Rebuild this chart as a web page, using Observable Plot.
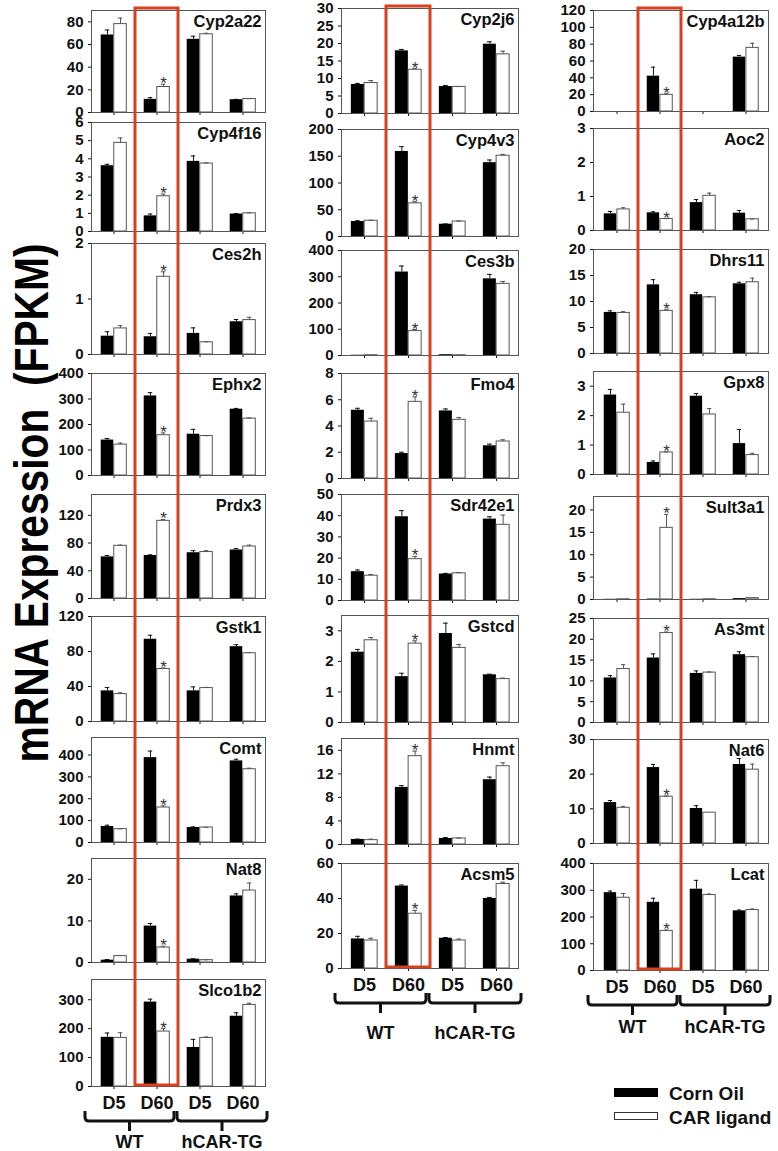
<!DOCTYPE html>
<html><head><meta charset="utf-8">
<script src="https://cdn.jsdelivr.net/npm/d3@7"></script>
<script src="https://cdn.jsdelivr.net/npm/@observablehq/plot@0.6"></script>
<style>
body{margin:0;background:#fff;}
#root{position:relative;width:778px;height:1151px;overflow:hidden;background:#fff;}
.panel{position:absolute;}
</style></head><body><div id="root"></div>
<script>
// ---------------- DATA ----------------
const groups = ["WT D5","WT D60","hCAR-TG D5","hCAR-TG D60"];
const groupLabels = ["D5","D60","D5","D60"];
const genotypes = ["WT","hCAR-TG"];
const treatments = ["Corn Oil","CAR ligand"];

const geneNames = ["Cyp2a22","Cyp4f16","Ces2h","Ephx2","Prdx3","Gstk1","Comt","Nat8","Slco1b2",
  "Cyp2j6","Cyp4v3","Ces3b","Fmo4","Sdr42e1","Gstcd","Hnmt","Acsm5",
  "Cyp4a12b","Aoc2","Dhrs11","Gpx8","Sult3a1","As3mt","Nat6","Lcat"];

const cornOil = [
  [68.4,11.6,64.6,11.3],[3.62,0.86,3.86,0.96],[0.33,0.32,0.38,0.59],[139,312,162,260],
  [60,62,66,70],[35,94,35,85.5],[73,388,68.5,373],[0.56,8.75,0.8,16],[170,292,135,243],
  [8.3,17.9,7.7,19.8],[28,159,23,138],[1,318,3,292],[5.2,1.9,5.15,2.49],
  [13.6,39.5,12.5,38.4],[2.3,1.5,2.91,1.56],[0.86,9.7,1.03,11],[16.9,47.1,17.3,40],
  [0,42,0,64.6],[0.49,0.52,0.82,0.51],[7.9,13.2,11.3,13.4],[2.7,0.41,2.66,1.05],
  [0.05,0.1,0.05,0.2],[10.7,15.5,11.8,16.3],[11.8,21.9,10.1,22.8],[291,255,304,223]
];
const cornOilErr = [
  [4.4,1.5,2.7,0.3],[0.08,0.1,0.3,0.03],[0.08,0.06,0.1,0.04],[6,13,19,3],
  [2,1,3,2],[3.8,4.6,4.6,2.3],[6,30,3,7.6],[0.16,0.64,0.1,0.5],[15,10,28,12],
  [0.3,0.4,0.3,0.7],[1.5,9,0.5,5],[0,23,0,17],[0.15,0.1,0.15,0.13],
  [0.8,2.9,0.3,1.1],[0.09,0.11,0.34,0.02],[0.05,0.3,0.15,0.45],[1.5,0.6,0.4,0.6],
  [0,10.7,0,2],[0.07,0.03,0.09,0.08],[0.3,1,0.45,0.3],[0.19,0.05,0.09,0.48],
  [0,0,0,0],[0.55,1,0.6,0.7],[0.6,0.9,0.8,1.7],[6,15,33,3]
];
const carLigand = [
  [78,22.5,69,11.9],[4.88,1.94,3.74,1.0],[0.47,1.4,0.22,0.62],[121,158,155,223],
  [76,112,67,75],[31.3,60,38.2,78],[61,160,68.5,335],[1.53,3.6,0.56,17.3],[168,190,168,282],
  [8.7,12.5,7.6,16.9],[29.5,62,28,151],[1,93,1,273],[4.34,5.84,4.47,2.82],
  [11.7,19.5,12.8,35.7],[2.69,2.58,2.44,1.42],[0.74,15,1.03,13.3],[16,31.3,16,48.3],
  [0,19.8,0,75.6],[0.62,0.34,1.02,0.33],[7.8,8.2,10.8,13.7],[2.1,0.75,2.04,0.66],
  [0.05,16,0.05,0.3],[12.85,21.5,12,15.7],[10.3,13.5,8.9,21.3],[272,148,282,226]
];
const carLigandErr = [
  [5.3,2.4,0.9,0.3],[0.27,0.12,0.04,0.03],[0.05,0.09,0.01,0.05],[6,9,1,3],
  [1,2,2,2],[1.5,1.1,0.8,0.8],[1.5,7.6,1,4.6],[0.15,0.3,0.1,1.8],[18,10,3,6],
  [0.7,0.3,0.1,0.9],[0.8,3,1,2.5],[0,6,0,9],[0.25,0.38,0.18,0.13],
  [0.6,1.3,0.4,4.6],[0.09,0.09,0.11,0.03],[0.17,0.86,0.05,0.57],[1.3,1.9,0.8,1],
  [0,1.2,0,5.5],[0.05,0.01,0.08,0.01],[0.25,0.2,0.13,0.8],[0.29,0.02,0.2,0.06],
  [0,3,0,0],[1.05,0.25,0.15,0.15],[0.4,0.2,0,1.6],[16,3,4,4]
];
// group at which the CAR-ligand bar is marked significant (*)
const starGroup = Array.from(geneNames, () => "WT D60");
const yMax = [90,6,2,400,150,120,480,25,370, 30,200,400,8,50,3.5,18,60, 120,3,20,3.5,23,25,30,400];
const yTicks = [
  [0,20,40,60,80],[0,1,2,3,4,5,6],[0,1,2],[0,100,200,300,400],[0,40,80,120],[0,40,80,120],
  [0,100,200,300,400],[0,10,20],[0,100,200,300],
  [0,5,10,15,20,25,30],[0,50,100,150,200],[0,100,200,300,400],[0,2,4,6,8],[0,10,20,30,40,50],
  [0,1,2,3],[0,4,8,12,16],[0,20,40,60],
  [0,20,40,60,80,100,120],[0,1,2,3],[0,5,10,15,20],[0,1,2,3],[0,5,10,15,20],[0,5,10,15,20,25],
  [0,10,20,30],[0,100,200,300,400]
];
const yTitle = "mRNA Expression  (FPKM)";

// ---------------- LAYOUT ----------------
const FONT = "'Liberation Sans', Arial, Helvetica, sans-serif";
const columns = [
  {from:0, to:9, left:91, right:265, tops:[10,122,243,373,494,616,737,858,979], zeros:[112,231,354,475,598,721,842,962,1086], labelDy:56},
  {from:9, to:17, left:341, right:518, tops:[8,129,250,373,494,615,738,863], zeros:[113,236,355,478,600,722,844,968], labelDy:65},
  {from:17, to:25, left:593, right:768, tops:[10,128,249,371,496,618,739,863], zeros:[111,230,353,474,599,722,843,970], labelDy:57}
];
const M = {left:50, right:8, top:10};
const root = document.getElementById("root");
const colScales = [];

columns.forEach((col, ci) => {
  const n = col.to - col.from;
  for (let k = 0; k < n; k++) {
    const gi = col.from + k;
    const top = col.tops[k], zero = col.zeros[k];
    const isLast = k === n - 1;
    const w = col.right - col.left, h = zero - top;
    const mB = isLast ? 34 : 6;
    const bw = w / groups.length;
    const cap = 2.5;
    const rows = groups.map((g, j) => ({
      group: g, label: groupLabels[j],
      corn: cornOil[gi][j], cornErr: cornOilErr[gi][j],
      car: carLigand[gi][j], carErr: carLigandErr[gi][j]
    }));
    const cErr = rows.filter(d => d.cornErr > 0);
    const lErr = rows.filter(d => d.carErr > 0);
    const marks = [
      Plot.barY(rows, {x: "group", y: "corn", fill: "#000", insetLeft: 0.2*bw, insetRight: 0.5*bw}),
      Plot.barY(rows, {x: "group", y: "car", fill: "#fff", stroke: "#555", strokeWidth: 1, insetLeft: 0.5*bw, insetRight: 0.2*bw}),
      Plot.ruleX(cErr, {x: "group", y1: "corn", y2: d => d.corn + d.cornErr, dx: -0.15*bw, stroke: "#111"}),
      Plot.tickY(cErr, {x: "group", y: d => d.corn + d.cornErr, insetLeft: 0.35*bw - cap, insetRight: 0.65*bw - cap, stroke: "#111"}),
      Plot.ruleX(lErr, {x: "group", y1: "car", y2: d => d.car + d.carErr, dx: 0.15*bw, stroke: "#555"}),
      Plot.tickY(lErr, {x: "group", y: d => d.car + d.carErr, insetLeft: 0.65*bw - cap, insetRight: 0.35*bw - cap, stroke: "#555"}),
      Plot.frame({stroke: "#555"}),
      Plot.text([geneNames[gi]], {text: d => d, frameAnchor: "top-right", textAnchor: "end", lineAnchor: "top", dx: -4, dy: 5, fontSize: 16.5, fill: "#111"}),
      Plot.text(rows.filter(d => d.group === starGroup[gi]), {x: "group", y: d => d.car + d.carErr, text: () => "*", dx: 0.15*bw, dy: 5, lineAnchor: "bottom", fontSize: 17, fontWeight: "normal", fill: "#333"})
    ];
    if (isLast) marks.push(Plot.text(rows, {x: "group", text: "label", frameAnchor: "bottom", lineAnchor: "top", dy: 10, fontSize: 18, fill: "#111"}));
    const plot = Plot.plot({
      width: w + M.left + M.right, height: h + M.top + mB,
      marginLeft: M.left, marginRight: M.right, marginTop: M.top, marginBottom: mB,
      style: {background: "none", maxWidth: "none", overflow: "visible", fontFamily: FONT, fontSize: "15px", fontWeight: "bold", color: "#111"},
      x: {type: "band", domain: groups, padding: 0, tickSize: 3, tickFormat: () => "", label: null},
      y: {domain: [0, yMax[gi]], ticks: yTicks[gi], tickFormat: d => String(d), tickSize: 3, tickPadding: 5, label: null},
      marks
    });
    const div = document.createElement("div");
    div.className = "panel";
    div.style.left = (col.left - M.left) + "px";
    div.style.top = (top - M.top) + "px";
    div.appendChild(plot);
    root.appendChild(div);
    if (isLast) colScales[ci] = plot.scale("x");
  }
});

// ---------------- OVERLAY: highlight boxes, braces, legend, title ----------------
const svg = d3.create("svg").attr("width", 778).attr("height", 1151)
  .style("position", "absolute").style("left", 0).style("top", 0)
  .style("font-family", FONT).style("font-weight", "bold");

columns.forEach((col, ci) => {
  const xs = colScales[ci];
  const bw = xs.bandwidth;
  const px = v => col.left + (xs.apply(v) - M.left);
  const zero = col.zeros[col.zeros.length - 1];
  // red highlight around WT D60
  svg.append("rect").attr("x", px("WT D60")).attr("y", col.tops[0] - 2)
    .attr("width", bw).attr("height", zero - col.tops[0] + 1)
    .attr("fill", "none").attr("stroke", "#d6411f").attr("stroke-width", 3);
  // braces
  const spans = [[px(groups[0]) - 7, px(groups[1]) + bw - 4], [px(groups[2]) - 1, px(groups[3]) + bw + 3]];
  spans.forEach(([x1, x2], i) => {
    const yT = zero + 25, yH = zero + 35, yS = zero + 45, r = 4, xm = (x1 + x2) / 2;
    svg.append("path")
      .attr("d", `M${x1},${yT} L${x1},${yH - r} Q${x1},${yH} ${x1 + r},${yH} L${x2 - r},${yH} Q${x2},${yH} ${x2},${yH - r} L${x2},${yT} M${xm},${yH} L${xm},${yS}`)
      .attr("fill", "none").attr("stroke", "#111").attr("stroke-width", 3);
    svg.append("text").attr("x", xm).attr("y", zero + col.labelDy).attr("text-anchor", "middle")
      .attr("dy", "0.35em").attr("font-size", 18).attr("fill", "#111").text(genotypes[i]);
  });
});

// legend
const lg = svg.append("g");
lg.append("rect").attr("x", 614).attr("y", 1088).attr("width", 44).attr("height", 9).attr("fill", "#000");
lg.append("rect").attr("x", 614.5).attr("y", 1112.5).attr("width", 43).attr("height", 7).attr("fill", "#fff").attr("stroke", "#333");
lg.append("text").attr("x", 669).attr("y", 1093).attr("dy", "0.35em").attr("font-size", 19).attr("fill", "#111").text(treatments[0]);
lg.append("text").attr("x", 669).attr("y", 1117).attr("dy", "0.35em").attr("font-size", 19).attr("fill", "#111").text(treatments[1]);

// y title
svg.append("text").attr("transform", "translate(48,503) rotate(-90)")
  .attr("text-anchor", "middle").attr("font-size", 48).attr("fill", "#000")
  .attr("textLength", 519).attr("lengthAdjust", "spacingAndGlyphs")
  .style("white-space", "pre").text(yTitle);

root.appendChild(svg.node());
</script></body></html>
